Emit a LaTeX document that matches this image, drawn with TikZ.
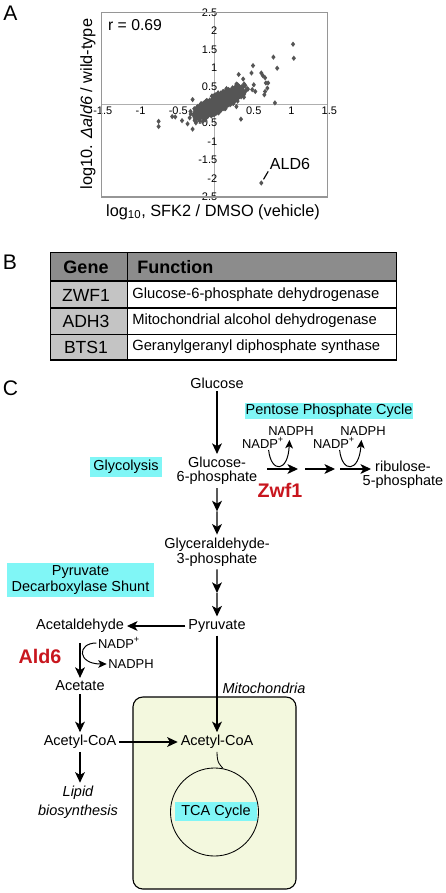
\documentclass[tikz,border=0pt]{standalone}
\usepackage{fontspec}
\setmainfont{Liberation Sans}
\usetikzlibrary{arrows.meta}
\usetikzlibrary{calc}

\newlength{\pxu}\setlength{\pxu}{0.7113pt}

\definecolor{hilite}{RGB}{128,246,246}
\definecolor{enzred}{RGB}{200,22,30}
\definecolor{mitofill}{RGB}{243,248,222}
\definecolor{dotgrey}{RGB}{85,85,85}
\definecolor{framegrey}{RGB}{150,150,150}
\definecolor{axisgrey}{RGB}{175,175,175}
\definecolor{headgrey}{RGB}{140,140,140}
\definecolor{genegrey}{RGB}{196,196,196}

\newcommand{\scdot}[2]{\fill[dotgrey] (#1,#2) ++(0pt,1.9pt) -- ++(1.5pt,-1.9pt) -- ++(-1.5pt,-1.9pt) -- ++(-1.5pt,1.9pt) -- cycle;}

\tikzset{
  flow/.style={line width=0.8pt, -{Stealth[length=7.5pt,width=7pt,inset=2pt]}},
  cofac/.style={line width=0.7pt, -{Stealth[length=6pt,width=5.5pt,inset=1.6pt]}},
  met/.style={font=\fontsize{10.3}{10.3}\selectfont, align=center, inner sep=2pt},
  cofaclbl/.style={font=\fontsize{9.2}{9.2}\selectfont, inner sep=1pt},
  enzyme/.style={font=\fontsize{14}{14}\selectfont\bfseries, text=enzred},
  cyanbox/.style={met, fill=hilite, inner sep=0pt},
  panel/.style={font=\fontsize{15}{15}\selectfont},
  ticklbl/.style={font=\fontsize{7.8}{7.8}\selectfont, inner sep=0pt},
  axlbl/.style={font=\fontsize{11.6}{11.6}\selectfont},
  tabtxt/.style={font=\fontsize{10.5}{10.5}\selectfont, anchor=west, inner sep=0pt},
  tabgene/.style={font=\fontsize{12.5}{12.5}\selectfont, inner sep=0pt},
  tabhead/.style={font=\fontsize{12.8}{12.8}\selectfont\bfseries, inner sep=0pt}
}

\begin{document}
\begin{tikzpicture}[x=0.025cm, y=-0.025cm]
  \useasboundingbox (0,0) rectangle (446,893);

  % panel letters
  \node[panel] (pa) at (10.5,13.5) {A};
  \node[panel] (pb) at (10,262) {B};
  \node[panel] (pc) at (10.5,388) {C};

  % A: scatter
  \begin{scope}[shift={(214.5,104.75)}, x=1.8875cm, y=0.9225cm]
    \draw[axisgrey, line width=0.6pt] (-1.5,0) -- (1.5,0);
    \draw[axisgrey, line width=0.6pt] (0,-2.5) -- (0,2.5);
    \foreach \t [count=\k] in {-1.5,-1,-0.5,0.5,1,1.5}
      \node[ticklbl, anchor=north] (xt\k) at (\t+0.02,-0.04) {\t};
    \foreach \t [count=\k] in {2.5,2,1.5,1,0.5,-0.5,-1,-1.5,-2,-2.5}
      \node[ticklbl, anchor=east] (yt\k) at (0.04,\t) {\t};
    \pgfmathsetseed{7}
    \foreach \k in {1,...,1100}{
      \pgfmathsetmacro\u{0.05+0.15*(rand+rand+rand)}
      \pgfmathsetmacro\v{0.05+1.05*(\u-0.05)+0.11*(rand+rand+rand)}
      \scdot{\u}{\v}
    }
    \foreach \u/\v in {1.04/1.64, 1.05/1.26, 0.78/1.29, 0.83/0.99, 0.51/1.06,
        0.62/0.86, 0.64/0.79, 0.67/0.73, 0.68/0.59, 0.71/0.59, 0.67/0.36,
        0.70/0.45, 0.80/0.05, 0.29/-0.05, 0.35/-0.39, -0.29/0.14, -0.29/-0.66,
        -0.74/-0.45, -0.74/-0.59, -0.52/-0.33, -0.43/-0.43, -0.56/-0.32,
        0.32/0.82, 0.52/0.54, 0.50/0.41, 0.49/0.86, 0.66/0.27, 0.54/0.36,
        0.62/-2.12}
      \scdot{\u}{\v}
    \coordinate (ald6pt) at (0.62,-2.12);
    \draw[framegrey, line width=0.9pt] (-1.5,-2.5) rectangle (1.5,2.5);
  \end{scope}
  \node[axlbl, font=\fontsize{11.2}{11.2}\selectfont] (rval) at (135,25) {r = 0.69};
  \node[axlbl, font=\fontsize{11.4}{11.4}\selectfont, inner sep=1pt] (ald6lbl) at (290,164) {ALD6};
  \draw[line width=0.8pt, shorten <=3pt] (ald6pt) -- (ald6lbl.south west);
  \node[axlbl, rotate=90] (ylab) at (88,104) {log10. \textit{Δald6} / wild-type};
  \node[axlbl] (xlab) at (213,212) {log\textsubscript{10}, SFK2 / DMSO (vehicle)};

  % B: table
  \fill[headgrey] (50.7,252.3) rectangle (396.7,281);
  \fill[genegrey] (50.7,281) rectangle (127.7,360);
  \draw[line width=0.8pt] (50.7,252.3) rectangle (396.7,360);
  \foreach \yy in {281,308,334.3}
    \draw[line width=0.8pt] (50.7,\yy) -- (396.7,\yy);
  \draw[line width=0.8pt] (127.7,252.3) -- (127.7,360);
  \node[tabhead] (hgene) at (86,267) {Gene};
  \node[tabhead, anchor=west] (hfunc) at (137,267) {Function};
  \node[tabgene] (gzwf) at (86,295) {ZWF1};
  \node[tabgene] (gadh) at (86,321) {ADH3};
  \node[tabgene] (gbts) at (86,347) {BTS1};
  \node[tabtxt] (fzwf) at (132,295) {Glucose-6-phosphate dehydrogenase};
  \node[tabtxt] (fadh) at (132,321) {Mitochondrial alcohol dehydrogenase};
  \node[tabtxt] (fbts) at (132,347) {Geranylgeranyl diphosphate synthase};

  % C: pathway
  \draw[line width=0.8pt, fill=mitofill, rounded corners=7pt] (133,697) rectangle (296,889);
  \node[circle, draw, line width=0.6pt, minimum size=88\pxu, inner sep=0pt] (tca) at (214.5,812) {};
  \node[cyanbox, minimum width=82\pxu, minimum height=19\pxu] (tcalbl) at (216,811.5) {TCA Cycle};
  \node[met, font=\fontsize{10.3}{10.3}\selectfont\itshape] (mito) at (264,688) {Mitochondria};

  \node[cyanbox, minimum width=168\pxu, minimum height=16\pxu] (ppclbl) at (329,411) {Pentose Phosphate Cycle};
  \node[cyanbox, minimum width=72\pxu, minimum height=20\pxu] (glylbl) at (126,467) {Glycolysis};
  \node[cyanbox, minimum width=147\pxu, minimum height=34\pxu, font=\fontsize{10.3}{12}\selectfont] (pdclbl) at (80.5,580) {Pyruvate\\Decarboxylase Shunt};

  \node[met] (glc) at (217,383) {Glucose};
  \node[met] (g6p) at (217,471) {Glucose-\\6-phosphate};
  \node[met, font=\fontsize{10.3}{10.8}\selectfont] (g3p) at (217,552) {Glyceraldehyde-\\3-phosphate};
  \node[met] (pyr) at (217,626) {Pyruvate};
  \node[met] (acald) at (80,626) {Acetaldehyde};
  \node[met] (acet) at (80,686) {Acetate};
  \node[met] (acoa1) at (80,742) {Acetyl-CoA};
  \node[met] (acoa2) at (217,742) {Acetyl-CoA};
  \node[met, font=\fontsize{10.3}{13.5}\selectfont\itshape] (lipid) at (78,802) {Lipid\\biosynthesis};
  \node[met] (rib) at (403,475) {ribulose-\\5-phosphate};

  \node[enzyme] (zwf) at (280,490) {Zwf1};
  \node[enzyme] (ald) at (40,656) {Ald6};

  \node[cofaclbl] (nadp1) at (263,443) {NADP\textsuperscript{+}};
  \node[cofaclbl] (nadph1) at (291,431) {NADPH};
  \node[cofaclbl] (nadp2) at (334,443) {NADP\textsuperscript{+}};
  \node[cofaclbl] (nadph2) at (363,431) {NADPH};
  \node[cofaclbl] (nadp3) at (119,643) {NADP\textsuperscript{+}};
  \node[cofaclbl] (nadph3) at (131,664) {NADPH};

  % main route
  \coordinate (m1) at ($(g6p.south)!0.5!(g3p.north)$);
  \coordinate (m2) at ($(g3p.south)!0.5!(pyr.north)$);
  \draw[flow] (glc) -- (g6p);
  \draw[flow] (g6p) -- (m1);
  \draw[flow] (m1) -- (g3p);
  \draw[flow] (g3p) -- (m2);
  \draw[flow] (m2) -- (pyr);
  \draw[flow] (pyr) -- (acald);
  \draw[flow] (pyr) -- (acoa2);
  \draw[flow, shorten <=5pt] (acald) -- (acet);
  \draw[flow] (acet) -- (acoa1);
  \draw[flow] (acoa1) -- (acoa2);
  \draw[flow] (acoa1) -- (acoa1 |- lipid.north);
  \draw[line width=0.6pt] (acoa2.south) .. controls +(0,12) and +(-3,-4) .. (tca.79);

  % pentose phosphate branch
  \coordinate (pp1) at (267,469);
  \coordinate (pp2) at (298,469);
  \coordinate (pp3) at (305,469);
  \coordinate (pp4) at (335,469);
  \coordinate (pp5) at (340,469);
  \coordinate (pp6) at (371,469);
  \draw[flow] (pp1) -- (pp2);
  \draw[flow] (pp3) -- (pp4);
  \draw[flow] (pp5) -- (pp6);
  \draw[cofac, shorten >=2pt] ([xshift=4pt]nadp1.south) .. controls (271,473) and (288,473) .. ([xshift=-1pt]nadph1.south);
  \draw[cofac, shorten >=2pt] ([xshift=4pt]nadp2.south) .. controls (342,473) and (359,473) .. ([xshift=-1pt]nadph2.south);

  % ald6 cofactor
  \draw[cofac] (nadp3.west) .. controls (77,643) and (77,664) .. (nadph3.west);
\end{tikzpicture}
\end{document}
